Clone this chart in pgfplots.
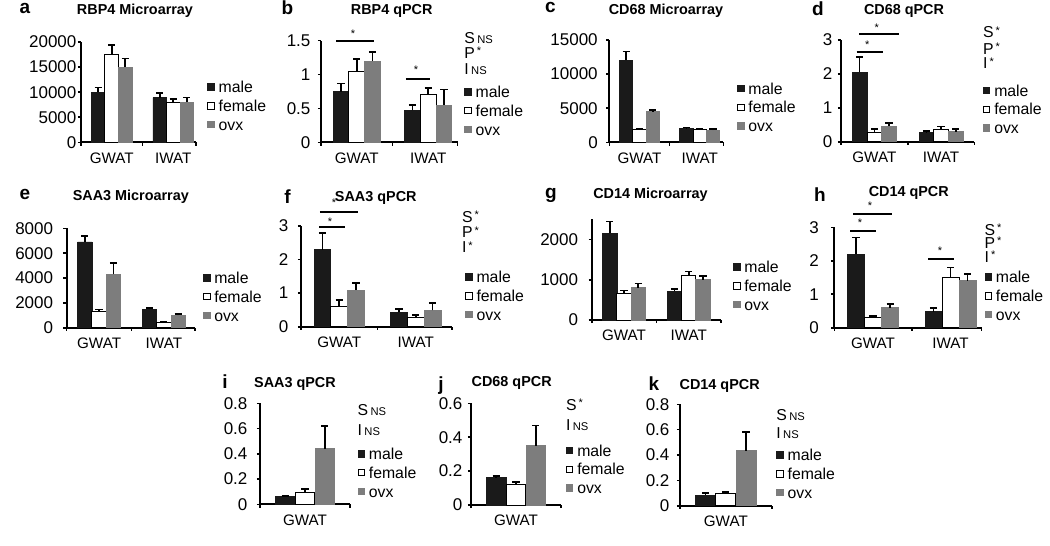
\documentclass[border=0pt]{standalone}
\usepackage{pgfplots}
\pgfplotsset{compat=1.18}
\usepackage{fontspec}
\setmainfont{Liberation Sans}
\definecolor{mblack}{HTML}{1A1A1A}
\definecolor{mgray}{HTML}{7D7D7D}
\newcommand\fy{\fontsize{8.5pt}{9pt}\selectfont}
\newcommand\fx{\fontsize{7.6pt}{8pt}\selectfont}
\newcommand\fs{\fontsize{7.9pt}{8pt}\selectfont}
\newcommand\ft{\fontsize{7.2pt}{8pt}\selectfont\bfseries}
\newcommand\fl{\fontsize{9.5pt}{10pt}\selectfont\bfseries}
\newcommand\fns{\fontsize{5.6pt}{6pt}\selectfont}
\newcommand\fstar{\fontsize{5.5pt}{5.5pt}\selectfont}
\newcommand\st{\hspace{1pt}\raisebox{1.8pt}{\fstar *}}
\newcommand\ns{\hspace{1.2pt}{\fns NS}}
\pgfplotsset{
  panel/.style={
    scale only axis, anchor=south west, clip=false,
    axis x line*=bottom, axis y line*=left,
    axis line style={line width=0.9pt, black},
    xmin=0, ymin=0, enlargelimits=false,
    tick align=outside, major tick length=1.6pt,
    tick style={line width=0.8pt, black},
    ybar=0pt, bar width=0.22,
    scaled y ticks=false,
    /pgf/number format/fixed,
    /pgf/number format/1000 sep={},
    /pgf/number format/assume math mode=true,
    yticklabel style={font=\fy},
    xticklabel style={font=\fx},
    xticklabels={},
    extra x tick style={tick style={draw=none}},
    legend style={draw=none, fill=none, inner sep=0pt, font=\fs, anchor=west,
      row sep=3.0pt, column sep=1.5pt,
      nodes={inner sep=0.4pt, text height=5.6pt, text depth=0pt}},
    legend cell align=left,
  },
  bar/.style={
    legend image code/.code={\draw[##1, line width=0.5pt] (0pt,-1.6pt) rectangle (3.2pt,1.6pt);},
    error bars/.cd, y dir=plus, y explicit,
    error mark=-,
    error bar style={black, line width=0.8pt, solid},
    error mark options={black, line width=0.8pt, mark size=1.8pt, rotate=90},
  },
  male/.style={fill=mblack, draw=mblack, line width=0.4pt, bar shift=-0.22, bar},
  female/.style={fill=white, draw=black, line width=0.5pt, bar shift=0, bar},
  ovx/.style={fill=mgray, draw=mgray, line width=0.4pt, bar shift=0.22, bar},
  two/.style={extra x ticks={0.5,1.5}, extra x tick labels={GWAT,IWAT}},
  one/.style={xmax=1, xtick={0,1}, extra x ticks={0.5}, extra x tick labels={GWAT}},
}
\begin{document}
\begin{tikzpicture}
\useasboundingbox (0,0) rectangle (525pt,-273pt);

% a
\begin{axis}[panel, two, at={(40.5pt,-71.15pt)}, width=57.5pt, height=50.15pt,
  xmax=1.87, xtick={0,1,1.87}, ymax=20000, ytick={0,5000,10000,15000,20000},
  yticklabel style={inner sep=0.5pt}, legend style={at={(1.096,0.362)}}]
\addplot[male] coordinates {(0.5,10000) +- (0,900) (1.5,8900) +- (0,900)};
\addplot[female] coordinates {(0.5,17500) +- (0,1900) (1.5,8000) +- (0,600)};
\addplot[ovx] coordinates {(0.5,15000) +- (0,1700) (1.5,8000) +- (0,900)};
\legend{male,female,ovx}
\end{axis}

% b
\begin{axis}[panel, two, at={(160.5pt,-71.15pt)}, width=68.3pt, height=50.8pt,
  xmax=1.91, xtick={0,1,1.91}, ymax=1.5, ytick={0,0.5,1,1.5},
  yticklabel style={inner sep=3.5pt}, legend style={at={(1.047,0.311)}}]
\addplot[male] coordinates {(0.5,0.75) +- (0,0.12) (1.5,0.47) +- (0,0.08)};
\addplot[female] coordinates {(0.5,1.05) +- (0,0.18) (1.5,0.70) +- (0,0.10)};
\addplot[ovx] coordinates {(0.5,1.20) +- (0,0.13) (1.5,0.55) +- (0,0.23)};
\legend{male,female,ovx}
\draw[line width=1pt] (axis cs:0.21,1.49) -- (axis cs:0.741,1.49);
\node[font=\fstar, inner sep=0pt] at (axis cs:0.448,1.61) {*};
\draw[line width=1pt] (axis cs:1.185,0.94) -- (axis cs:1.53,0.94);
\node[font=\fstar, inner sep=0pt] at (axis cs:1.33,1.07) {*};
\end{axis}

% c
\begin{axis}[panel, two, at={(304.65pt,-71.15pt)}, width=57pt, height=51.15pt,
  xmax=1.89, xtick={0,1,1.89}, ymax=15000, ytick={0,5000,10000,15000},
  yticklabel style={inner sep=4pt}, legend style={at={(1.118,0.342)}}]
\addplot[male] coordinates {(0.5,12000) +- (0,1300) (1.5,2000) +- (0,150)};
\addplot[female] coordinates {(0.5,1900) +- (0,150) (1.5,1850) +- (0,100)};
\addplot[ovx] coordinates {(0.5,4500) +- (0,200) (1.5,1800) +- (0,150)};
\legend{male,female,ovx}
\end{axis}

% d
\begin{axis}[panel, two, at={(420.5pt,-70.85pt)}, width=66.7pt, height=50.85pt,
  xmax=2, xtick={0,1,2}, ymax=3, ytick={0,1,2,3},
  yticklabel style={inner sep=2.5pt}, legend style={at={(1.062,0.319)}}]
\addplot[male] coordinates {(0.5,2.05) +- (0,0.45) (1.5,0.27) +- (0,0.05)};
\addplot[female] coordinates {(0.5,0.28) +- (0,0.09) (1.5,0.35) +- (0,0.10)};
\addplot[ovx] coordinates {(0.5,0.45) +- (0,0.10) (1.5,0.30) +- (0,0.07)};
\legend{male,female,ovx}
\draw[line width=1pt] (axis cs:0.274,3.17) -- (axis cs:0.862,3.17);
\node[font=\fstar, inner sep=0pt] at (axis cs:0.535,3.36) {*};
\draw[line width=1pt] (axis cs:0.235,2.65) -- (axis cs:0.625,2.65);
\node[font=\fstar, inner sep=0pt] at (axis cs:0.394,2.87) {*};
\end{axis}

% e
\begin{axis}[panel, two, at={(33.35pt,-163.85pt)}, width=64.15pt, height=49.7pt,
  xmax=1.98, xtick={0,1,1.98}, ymax=8000, ytick={0,2000,4000,6000,8000},
  yticklabel style={inner sep=5pt}, legend style={at={(1.06,0.312)}}]
\addplot[male] coordinates {(0.5,6900) +- (0,500) (1.5,1500) +- (0,100)};
\addplot[female] coordinates {(0.5,1300) +- (0,150) (1.5,380) +- (0,80)};
\addplot[ovx] coordinates {(0.5,4300) +- (0,900) (1.5,1000) +- (0,120)};
\legend{male,female,ovx}
\end{axis}

% f
\begin{axis}[panel, two, at={(150.5pt,-163.35pt)}, width=75.35pt, height=50.35pt,
  xmax=1.97, xtick={0,1,1.97}, ymax=3, ytick={0,1,2,3},
  yticklabel style={inner sep=4.5pt}, legend style={at={(1.088,0.305)}}]
\addplot[male] coordinates {(0.5,2.30) +- (0,0.50) (1.5,0.43) +- (0,0.10)};
\addplot[female] coordinates {(0.5,0.60) +- (0,0.20) (1.5,0.28) +- (0,0.06)};
\addplot[ovx] coordinates {(0.5,1.09) +- (0,0.22) (1.5,0.49) +- (0,0.21)};
\legend{male,female,ovx}
\draw[line width=1pt] (axis cs:0.248,3.43) -- (axis cs:0.749,3.43);
\node[font=\fstar, inner sep=0pt] at (axis cs:0.431,3.68) {*};
\draw[line width=1pt] (axis cs:0.239,2.97) -- (axis cs:0.575,2.97);
\node[font=\fstar, inner sep=0pt] at (axis cs:0.379,3.13) {*};
\end{axis}

% g
\begin{axis}[panel, two, at={(295.85pt,-160pt)}, width=64.7pt, height=50.35pt,
  xmax=2, xtick={0,1,2}, ymax=2500, ytick={0,1000,2000},
  yticklabel style={inner sep=5pt}, legend style={at={(1.09,0.338)}}]
\addplot[male] coordinates {(0.5,2150) +- (0,300) (1.5,710) +- (0,60)};
\addplot[female] coordinates {(0.5,650) +- (0,80) (1.5,1100) +- (0,100)};
\addplot[ovx] coordinates {(0.5,800) +- (0,110) (1.5,1000) +- (0,90)};
\legend{male,female,ovx}
\end{axis}

% h
\begin{axis}[panel, two, at={(417.15pt,-163.85pt)}, width=73.65pt, height=50.2pt,
  xmax=1.9, xtick={0,1,1.9}, ymax=3, ytick={0,1,2,3},
  yticklabel style={inner sep=6pt}, legend style={at={(1.018,0.316)}}]
\addplot[male] coordinates {(0.5,2.20) +- (0,0.50) (1.5,0.48) +- (0,0.10)};
\addplot[female] coordinates {(0.5,0.30) +- (0,0.05) (1.5,1.50) +- (0,0.30)};
\addplot[ovx] coordinates {(0.5,0.60) +- (0,0.10) (1.5,1.40) +- (0,0.20)};
\legend{male,female,ovx}
\draw[line width=1pt] (axis cs:0.245,3.40) -- (axis cs:0.748,3.40);
\node[font=\fstar, inner sep=0pt] at (axis cs:0.461,3.64) {*};
\draw[line width=1pt] (axis cs:0.203,2.89) -- (axis cs:0.538,2.89);
\node[font=\fstar, inner sep=0pt] at (axis cs:0.332,3.15) {*};
\draw[line width=1pt] (axis cs:1.213,2.04) -- (axis cs:1.545,2.04);
\node[font=\fstar, inner sep=0pt] at (axis cs:1.363,2.29) {*};
\end{axis}

% i
\begin{axis}[panel, one, at={(130pt,-252.15pt)}, width=45pt, height=50.5pt,
  ymax=0.8, ytick={0,0.2,0.4,0.6,0.8},
  yticklabel style={inner sep=4.5pt}, legend style={at={(1.081,0.313)}}]
\addplot[male] coordinates {(0.5,0.06) +- (0,0.008)};
\addplot[female] coordinates {(0.5,0.09) +- (0,0.03)};
\addplot[ovx] coordinates {(0.5,0.44) +- (0,0.18)};
\legend{male,female,ovx}
\end{axis}

% j
\begin{axis}[panel, one, at={(235.5pt,-252.5pt)}, width=45pt, height=50.85pt,
  ymax=0.6, ytick={0,0.2,0.4,0.6},
  yticklabel style={inner sep=2.5pt}, legend style={at={(1.052,0.351)}}]
\addplot[male] coordinates {(0.5,0.16) +- (0,0.012)};
\addplot[female] coordinates {(0.5,0.12) +- (0,0.015)};
\addplot[ovx] coordinates {(0.5,0.35) +- (0,0.12)};
\legend{male,female,ovx}
\end{axis}

% k
\begin{axis}[panel, one, at={(340pt,-252.85pt)}, width=45.85pt, height=50.7pt,
  ymax=0.8, ytick={0,0.2,0.4,0.6,0.8},
  yticklabel style={inner sep=3.5pt}, legend style={at={(1.047,0.313)}}]
\addplot[male] coordinates {(0.5,0.085) +- (0,0.015)};
\addplot[female] coordinates {(0.5,0.095) +- (0,0.015)};
\addplot[ovx] coordinates {(0.5,0.435) +- (0,0.145)};
\legend{male,female,ovx}
\end{axis}

\begin{scope}[x=0.5pt,y=-0.5pt]
% titles
\node[font=\ft, anchor=base] at (135,15) {RBP4 Microarray};
\node[font=\ft, anchor=base] at (391.7,14) {RBP4 qPCR};
\node[font=\ft, anchor=base] at (666,15) {CD68 Microarray};
\node[font=\ft, anchor=base] at (904,15) {CD68 qPCR};
\node[font=\ft, anchor=base] at (130.8,200) {SAA3 Microarray};
\node[font=\ft, anchor=base] at (375.8,201.7) {SAA3 qPCR};
\node[font=\ft, anchor=base] at (650.5,198.3) {CD14 Microarray};
\node[font=\ft, anchor=base] at (908.8,196.7) {CD14 qPCR};
\node[font=\ft, anchor=base] at (295,387.3) {SAA3 qPCR};
\node[font=\ft, anchor=base] at (511.7,386.7) {CD68 qPCR};
\node[font=\ft, anchor=base] at (719.7,389.3) {CD14 qPCR};
% panel letters
\node[font=\fl, anchor=base] at (25,13.3) {a};
\node[font=\fl, anchor=base] at (287.5,15) {b};
\node[font=\fl, anchor=base] at (550.5,12.7) {c};
\node[font=\fl, anchor=base] at (818,16) {d};
\node[font=\fl, anchor=base] at (25,199.3) {e};
\node[font=\fl, anchor=base] at (287.5,203) {f};
\node[font=\fl, anchor=base] at (551,198.3) {g};
\node[font=\fl, anchor=base] at (820,201.7) {h};
\node[font=\fl, anchor=base] at (225,388.3) {i};
\node[font=\fl, anchor=base] at (441,390) {j};
\node[font=\fl, anchor=base] at (654,390.7) {k};
% statistics
\begin{scope}[every node/.style={anchor=west, inner sep=0pt, font=\fs}]
\node at (464,38) {S\ns};
\node at (464,53) {P\st};
\node at (464,69.5) {I\ns};
\node at (982.7,32.3) {S\st};
\node at (982.7,48.7) {P\st};
\node at (982.7,63.3) {I\st};
\node at (461.7,217) {S\st};
\node at (461.7,232.2) {P\st};
\node at (461.7,247.2) {I\st};
\node at (984.3,230) {S\st};
\node at (984.3,242.7) {P\st};
\node at (984.3,256.5) {I\st};
\node at (357.3,410) {S\ns};
\node at (357.3,430) {I\ns};
\node at (565.7,404.5) {S\st};
\node at (565.7,425) {I\ns};
\node at (776,415) {S\ns};
\node at (776,433.2) {I\ns};
\end{scope}
\end{scope}
\end{tikzpicture}
\end{document}
